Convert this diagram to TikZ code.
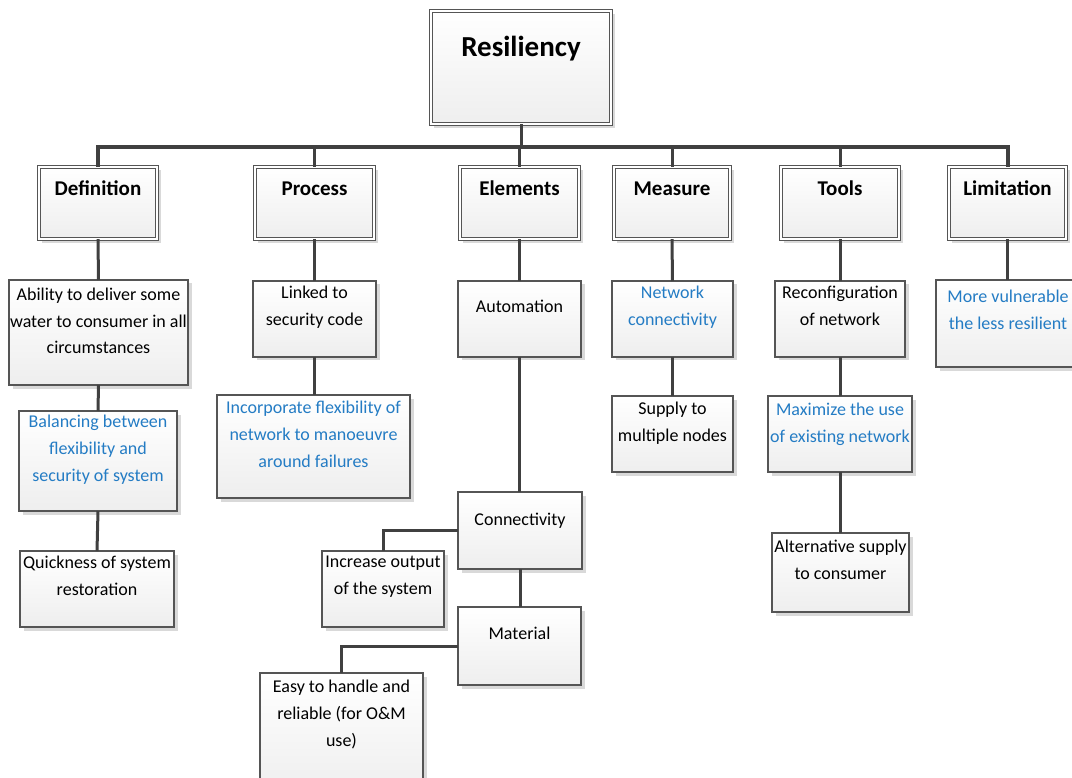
\documentclass[tikz,border=0pt]{standalone}
\usepackage{fontspec}
\setmainfont{Carlito}
\usetikzlibrary{shadows,fit}

\definecolor{wire}{HTML}{404040}
\definecolor{frame}{HTML}{555555}
\definecolor{note}{RGB}{36,124,196}
\definecolor{paper}{HTML}{EEEEEE}
\definecolor{shadowgray}{HTML}{D9D9D9}

% multi-line texts are placed by the baseline of their last line
\tikzset{
  x=1pt, y=-1pt,
  card/.style={draw=frame, line width=1.1pt, top color=white, bottom color=paper,
    inner sep=0pt, outer sep=0pt,
    drop shadow={shadow xshift=3.5pt, shadow yshift=-3.5pt, fill=shadowgray, opacity=1}},
  head/.style={card, line width=0.9pt, double=white, double distance=1.8pt, inner sep=-1.8pt},
  body/.style={font=\fontsize{18}{27}\selectfont, align=center, anchor=base, inner sep=0pt},
  blue/.style={body, text=note},
  headtxt/.style={font=\fontsize{21}{25}\selectfont\bfseries, anchor=base, inner sep=0pt},
  wire/.style={draw=wire, line width=3pt},
  bus/.style={draw=wire, line width=4pt, line join=miter},
}

\begin{document}
\begin{tikzpicture}
\useasboundingbox[fill=white] (0,0) rectangle (1072,778);

% top node
\node[head, fit={(429,9) (613,126)}] (res) {};
\node[font=\fontsize{29}{33}\selectfont\bfseries, anchor=base, inner sep=0pt] (res-t) at (521,57) {Resiliency};

% category headers
\node[head, fit={(37,165) (159,241)}]  (def)   {};
\node[head, fit={(253,165) (376,241)}] (proc)  {};
\node[head, fit={(458,165) (581,241)}] (elem)  {};
\node[head, fit={(612,165) (732,241)}] (meas)  {};
\node[head, fit={(779,165) (901,241)}] (tools) {};
\node[head, fit={(947,165) (1068,241)}] (lim)  {};
\node[headtxt] (def-t)   at (98,196)    {Definition};
\node[headtxt] (proc-t)  at (314.5,196) {Process};
\node[headtxt] (elem-t)  at (519.5,196) {Elements};
\node[headtxt] (meas-t)  at (672,196)   {Measure};
\node[headtxt] (tools-t) at (840,196)   {Tools};
\node[headtxt] (lim-t)   at (1007.5,196) {Limitation};

% Definition branch
\node[card, fit={(9,280) (188,385)}]   (abil)  {};
\node[body] (abil-t) at (98.5,354) {Ability to deliver some\\water to consumer in all\\circumstances};
\node[card, fit={(19,411) (177,511)}]  (bal)   {};
\node[blue] (bal-t) at (98,481) {Balancing between\\flexibility and\\security of system};
\node[card, fit={(20,551) (174,627)}]  (quick) {};
\node[body] (quick-t) at (97,595) {Quickness of system\\restoration};

% Process branch
\node[card, fit={(253,281) (376,357)}] (link)  {};
\node[body] (link-t) at (314.5,326) {Linked to\\security code};
\node[card, fit={(217,395) (410,498)}] (inc-flex) {};
\node[blue] (inc-flex-t) at (313.5,467) {Incorporate flexibility of\\network to manoeuvre\\around failures};

% Elements branch
\node[card, fit={(458,281) (581,357)}] (auto)  {};
\node[body] (auto-t) at (519.5,313) {Automation};
\node[card, fit={(458,492) (582,569)}] (conn)  {};
\node[body] (conn-t) at (520,525) {Connectivity};
\node[card, fit={(322,551) (444,627)}] (outp)  {};
\node[body] (outp-t) at (383,594) {Increase output\\of the system};
\node[card, fit={(458,607) (581,685)}] (mat)   {};
\node[body] (mat-t) at (519.5,639) {Material};
\node[card, fit={(260,673) (423,795)}] (easy)  {};
\node[body] (easy-t) at (341.5,746) {Easy to handle and\\reliable (for O\&M\\use)};

% Measure branch
\node[card, fit={(612,281) (733,357)}] (netw)  {};
\node[blue] (netw-t) at (672.5,326) {Network\\connectivity};
\node[card, fit={(612,396) (733,472)}] (supp)  {};
\node[body] (supp-t) at (672.5,441) {Supply to\\multiple nodes};

% Tools branch
\node[card, fit={(775,281) (905,357)}] (recon) {};
\node[body] (recon-t) at (840,326) {Reconfiguration\\of network};
\node[card, fit={(768,396) (912,472)}] (maxi)  {};
\node[blue] (maxi-t) at (840,442) {Maximize the use\\of existing network};
\node[card, fit={(772,533) (909,612)}] (alt)   {};
\node[body] (alt-t) at (840.5,579) {Alternative supply\\to consumer};

% Limitation branch
\node[card, fit={(936,280) (1082,367)}] (vuln) {};
\node[blue] (vuln-t) at (1008,330) {More vulnerable\\the less resilient};

% connectors
\coordinate (busy) at (0,147);
\draw[bus] (def.north) -- (def.north |- busy) -- (lim.north |- busy) -- (lim.north);
\draw[wire] (res.south) -- (res.south |- busy);
\foreach \h in {proc,elem,meas,tools}
  \draw[wire] (\h.north) -- (\h.north |- busy);

\draw[wire] (def.south) -- (abil.north);
\draw[wire] (abil.south) -- (bal.north);
\draw[wire] (bal.south) -- (quick.north);

\draw[wire] (proc.south) -- (link.north);
\draw[wire] (link.south) -- (link.south |- inc-flex.north);

\draw[wire] (elem.south) -- (auto.north);
\draw[wire] (auto.south) -- (auto.south |- conn.north);
\draw[wire] (conn.west) -| (outp.north);
\draw[wire] (conn.south) -- (conn.south |- mat.north);
\draw[wire] (mat.west) -| (easy.north);

\draw[wire] (meas.south) -- (netw.north);
\draw[wire] (netw.south) -- (supp.north);

\draw[wire] (tools.south) -- (recon.north);
\draw[wire] (recon.south) -- (recon.south |- maxi.north);
\draw[wire] (maxi.south) -- (maxi.south |- alt.north);

\draw[wire] (lim.south) -- (lim.south |- vuln.north);
\end{tikzpicture}
\end{document}
